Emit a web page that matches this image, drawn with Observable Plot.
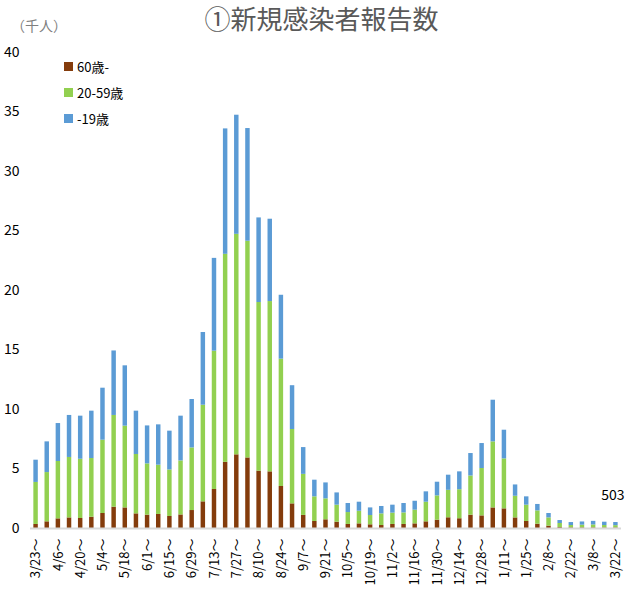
<!DOCTYPE html>
<html>
<head>
<meta charset="utf-8">
<script src="https://cdn.jsdelivr.net/npm/d3@7"></script>
<script src="https://cdn.jsdelivr.net/npm/@observablehq/plot@0.6"></script>
<style>
  body { margin: 0; background: #fff; }
  #wrap { position: relative; width: 635px; height: 606px; font-family: "Noto Sans CJK JP", "Noto Sans", sans-serif; }
  #title { position: absolute; left: 0; width: 635px; top: 0px; line-height: 36px; text-align: center; font-size: 26px; color: #595959; padding-left: 8px; box-sizing: border-box; }
  #unit { position: absolute; left: 11px; top: 15px; font-size: 14px; color: #7f7f7f; }
  #legend { position: absolute; left: 64px; top: 53px; font-size: 13px; color: #000; }
  #legend div { height: 26px; display: flex; align-items: center; }
  #legend span.sw { display: inline-block; width: 9px; height: 9px; margin-right: 4px; }
  #chart { position: absolute; left: 0; top: 0; }
</style>
</head>
<body>
<div id="wrap">
  <div id="chart"></div>
  <div id="title">①新規感染者報告数</div>
  <div id="unit">（千人）</div>
  <div id="legend"></div>
</div>
<script>
const weeks = ["3/23","3/30","4/6","4/13","4/20","4/27","5/4","5/11","5/18","5/25","6/1","6/8","6/15","6/22","6/29","7/6","7/13","7/20","7/27","8/3","8/10","8/17","8/24","8/31","9/7","9/14","9/21","9/28","10/5","10/12","10/19","10/26","11/2","11/9","11/16","11/23","11/30","12/7","12/14","12/21","12/28","1/4","1/11","1/18","1/25","2/1","2/8","2/15","2/22","3/1","3/8","3/15","3/22"];
// thousands of people per week, by age group
const age60plus = [0.34,0.56,0.81,0.89,0.84,0.95,1.26,1.79,1.73,1.23,1.12,1.18,1.01,1.14,1.51,2.24,3.28,5.56,6.19,5.93,4.82,4.76,3.53,2.07,1.10,0.59,0.73,0.53,0.34,0.39,0.31,0.25,0.34,0.34,0.39,0.56,0.70,0.90,0.82,1.12,1.06,1.73,1.65,0.89,0.59,0.36,0.20,0.08,0.06,0.06,0.06,0.05,0.05];
const age20to59 = [3.53,4.14,4.82,5.08,4.98,4.93,6.16,7.71,6.87,4.99,4.31,4.14,3.91,4.54,5.26,8.12,11.62,17.48,18.53,18.21,14.17,14.31,10.70,6.25,3.45,2.07,1.76,1.43,1.00,1.06,0.78,0.98,0.95,0.97,1.15,1.65,2.04,2.31,2.44,3.29,3.98,5.55,4.20,1.82,1.37,1.12,0.69,0.34,0.19,0.22,0.24,0.20,0.19];
const age0to19 = [1.87,2.58,3.19,3.53,3.62,3.98,4.37,5.42,5.07,3.64,3.19,3.39,3.26,3.76,4.07,6.11,7.80,10.54,10.01,9.47,7.11,6.92,5.37,3.68,2.25,1.40,1.34,1.03,0.76,0.76,0.64,0.62,0.67,0.79,0.75,0.87,1.15,1.27,1.50,1.89,2.10,3.50,2.41,0.95,0.70,0.54,0.37,0.25,0.25,0.27,0.30,0.28,0.263];
const groups = ["60歳-", "20-59歳", "-19歳"];
const colors = ["#843C0C", "#92D050", "#5B9BD5"];
const yTicks = [0, 5, 10, 15, 20, 25, 30, 35, 40];
const lastLabel = "503";

const series = [age60plus, age20to59, age0to19];
const rows = [];
weeks.forEach((w, i) => {
  groups.forEach((g, k) => rows.push({week: w, group: g, value: series[k][i]}));
});
const totals = weeks.map((w, i) => ({week: w, total: age60plus[i] + age20to59[i] + age0to19[i]}));

const chart = Plot.plot({
  width: 635,
  height: 606,
  marginTop: 52,
  marginBottom: 78,
  marginLeft: 30,
  marginRight: 14,
  style: {fontFamily: '"Noto Sans CJK JP", "Noto Sans", sans-serif', fontSize: "13px", color: "#000"},
  x: {domain: weeks, paddingInner: 0.6, paddingOuter: 0.3, round: false, label: null},
  y: {domain: [0, 40], label: null},
  color: {domain: groups, range: colors},
  marks: [
    Plot.axisY({ticks: yTicks, tickSize: 0, tickPadding: 11, fontSize: 14, label: null}),
    Plot.axisX({ticks: weeks.filter((d, i) => i % 2 === 0), tickFormat: d => d + "～", tickRotate: -90, tickSize: 0, tickPadding: 10, fontSize: 13, label: null}),
    Plot.barY(rows, {x: "week", y: "value", fill: "group", order: null}),
    Plot.ruleY([0], {stroke: "#d9d9d9", strokeWidth: 2}),
    Plot.text(totals.filter(d => d.week === weeks[weeks.length - 1]), {x: "week", y: "total", text: () => lastLabel, dy: -27, dx: -3, fontSize: 14, fill: "#000"})
  ]
});
document.getElementById("chart").appendChild(chart);

const legend = document.getElementById("legend");
groups.forEach((g, k) => {
  const row = document.createElement("div");
  row.innerHTML = `<span class="sw" style="background:${colors[k]}"></span>${g}`;
  legend.appendChild(row);
});
</script>
</body>
</html>
